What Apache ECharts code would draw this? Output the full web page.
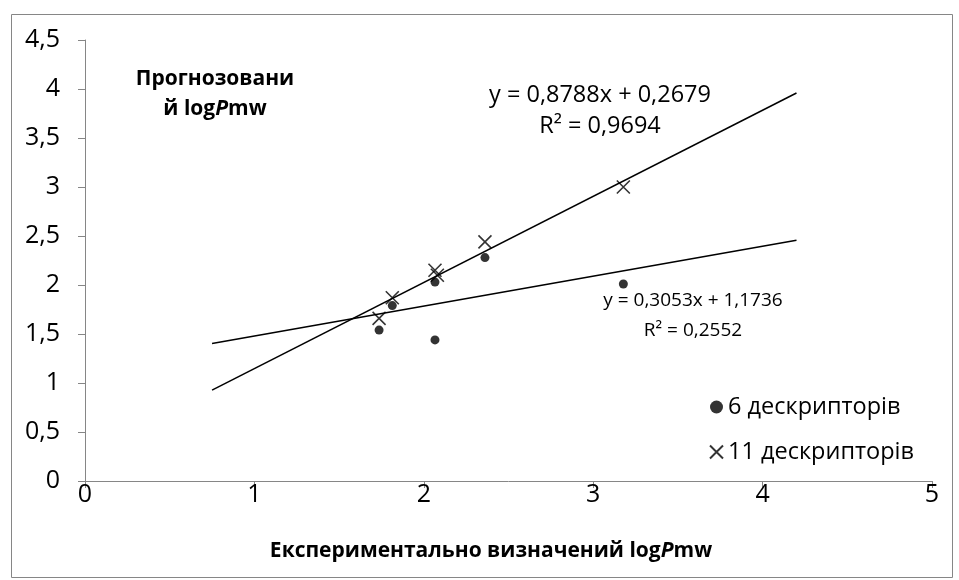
<!DOCTYPE html>
<html><head><meta charset="utf-8">
<script src="https://cdn.jsdelivr.net/npm/echarts@6/dist/echarts.min.js"></script>
<style>html,body{margin:0;padding:0;background:#fff}#c{width:959px;height:580px}</style>
</head><body><div id="c"></div>
<script>
const seriesNames = ['6 дескрипторів', '11 дескрипторів'];
const expX6 = [1.736, 1.814, 2.066, 2.066, 2.361, 3.178];
const pred6 = [1.54, 1.79, 2.03, 1.44, 2.28, 2.01];
const expX11 = [1.736, 1.814, 2.066, 2.08, 2.361, 3.178];
const pred11 = [1.66, 1.87, 2.15, 2.10, 2.44, 3.00];
const trend11X = [0.75, 4.2];
const trend11Y = [0.927, 3.959];
const trend6X = [0.75, 4.2];
const trend6Y = [1.403, 2.456];
const eq11 = ['y = 0,8788x + 0,2679', 'R² = 0,9694'];
const eq6 = ['y = 0,3053x + 1,1736', 'R² = 0,2552'];
const xTicks = [0, 1, 2, 3, 4, 5];
const yTicks = [0, 0.5, 1, 1.5, 2, 2.5, 3, 3.5, 4, 4.5];

const pair = (xs, ys) => xs.map((x, i) => [x, ys[i]]);
const FONT = '"Open Sans", "Noto Sans", sans-serif';
const FS_TICK = 25;
const FS = 23.5;
const FS_EQ6 = 19;
const FS_TITLE = 21;
const chart = echarts.init(document.getElementById('c'), null, {renderer: 'canvas'});
const crossPath = 'path://M0,0L10,10M10,0L0,10';
const fmt = v => String(v).replace('.', ',');
const titleRich = {
  b: {fontSize: FS_TITLE, fontWeight: 'bold', fontFamily: FONT, fill: '#000', lineHeight: 30},
  bi: {fontSize: FS_TITLE, fontWeight: 'bold', fontStyle: 'italic', fontFamily: FONT, fill: '#000', lineHeight: 30}
};

chart.setOption({
  animation: false,
  textStyle: {fontFamily: FONT},
  grid: {left: 85, right: 27, top: 40, bottom: 99},
  xAxis: {
    type: 'value', min: xTicks[0], max: xTicks[xTicks.length - 1], interval: 1,
    axisLine: {lineStyle: {color: '#868686', width: 1}},
    axisTick: {show: true, length: 7, lineStyle: {color: '#868686'}},
    axisLabel: {color: '#000', fontSize: FS_TICK, fontFamily: FONT, margin: 1, formatter: fmt},
    splitLine: {show: false}
  },
  yAxis: {
    type: 'value', min: yTicks[0], max: yTicks[yTicks.length - 1], interval: 0.5,
    axisLine: {show: true, lineStyle: {color: '#868686', width: 1}},
    axisTick: {show: true, length: 7, lineStyle: {color: '#868686'}},
    axisLabel: {color: '#000', fontSize: FS_TICK, fontFamily: FONT, margin: 25, formatter: fmt},
    splitLine: {show: false}
  },
  legend: {
    orient: 'vertical', left: 704, top: 390, itemGap: 21,
    itemWidth: 13, itemHeight: 13,
    textStyle: {fontSize: FS, color: '#000', fontFamily: FONT},
    data: [
      {name: seriesNames[0], icon: 'circle'},
      {name: seriesNames[1], icon: crossPath}
    ]
  },
  series: [
    {name: 'trend11', type: 'line', data: pair(trend11X, trend11Y), symbol: 'none',
     lineStyle: {color: '#000', width: 1.5}, silent: true},
    {name: 'trend6', type: 'line', data: pair(trend6X, trend6Y), symbol: 'none',
     lineStyle: {color: '#000', width: 1.5}, silent: true},
    {name: seriesNames[0], type: 'scatter', data: pair(expX6, pred6), symbol: 'circle', symbolSize: 9,
     itemStyle: {color: '#000'}},
    {name: seriesNames[1], type: 'scatter', data: pair(expX11, pred11), symbol: crossPath, symbolSize: 13,
     itemStyle: {color: 'rgba(0,0,0,0)', borderColor: '#000', borderWidth: 1.6}}
  ],
  graphic: [
    {type: 'rect', left: 9, top: 12, shape: {width: 941, height: 563},
     style: {fill: 'none', stroke: '#868686', lineWidth: 1}, silent: true, z: -1},
    {type: 'text', x: 600, y: 80,
     style: {text: eq11.join('\n'), fontSize: FS, fontFamily: FONT, fill: '#000', align: 'center', lineHeight: 31}},
    {type: 'text', x: 693, y: 286,
     style: {text: eq6.join('\n'), fontSize: FS_EQ6, fontFamily: FONT, fill: '#000', align: 'center', lineHeight: 30}},
    {type: 'text', x: 215, y: 64,
     style: {rich: titleRich, text: '{b|Прогнозовани}\n{b|й log}{bi|P}{b|mw}', align: 'center'}},
    {type: 'text', x: 491, y: 536,
     style: {rich: titleRich, text: '{b|Експериментально визначений log}{bi|P}{b|mw}', align: 'center'}}
  ]
});
</script></body></html>
